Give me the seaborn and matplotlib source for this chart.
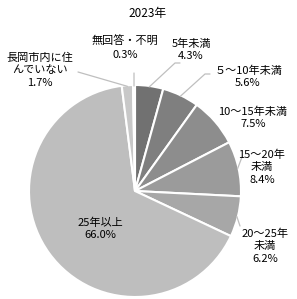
import matplotlib
matplotlib.use("Agg")
import matplotlib.pyplot as plt
import seaborn as sns
import numpy as np

categories = ["5年未満", "５～10年未満", "10～15年未満", "15～20年未満",
              "20～25年未満", "25年以上", "長岡市内に住んでいない", "無回答・不明"]
values = [4.3, 5.6, 7.5, 8.4, 6.2, 66.0, 1.7, 0.3]
label_names = ["5年未満", "５～10年未満", "10～15年未満", "15～20年\n未満",
               "20～25年\n未満", "25年以上", "長岡市内に住\nんでいない", "無回答・不明"]
title = "2023年"

sns.set_theme(style="white")
plt.rcParams['font.family'] = ['Noto Sans CJK JP', 'DejaVu Sans']

colors = sns.color_palette(["#717171", "#7f7f7f", "#8d8d8d", "#9b9b9b",
                            "#a7a7a7", "#bebebe", "#c8c8c8", "#d4d4d4"])

W, H = 297, 299
fig = plt.figure(figsize=(W / 100, H / 100), dpi=100)
cx, cy, R = 135, 191, 106
ax = fig.add_axes([(cx - R) / W, (H - cy - R) / H, 2 * R / W, 2 * R / H])
ax.pie(values, colors=colors, startangle=90, counterclock=False, radius=1,
       wedgeprops=dict(edgecolor="white", linewidth=1.5))
ax.set_xlim(-1, 1)
ax.set_ylim(-1, 1)
ax.set_aspect("auto")
ax.axis("off")

def to_data(px, py):
    return (px - cx) / R, (cy - py) / R

# label block centres (pixels)
label_pos = [(191, 50), (248, 77), (253, 118), (262, 167), (265, 246),
             (100, 229), (40, 70), (125, 48)]
fs = 8
for name, v, (px, py) in zip(label_names, values, label_pos):
    x, y = to_data(px, py)
    ax.text(x, y, f"{name}\n{v:.1f}%", ha="center", va="center", fontsize=fs,
            color="#000000", linespacing=1.3, clip_on=False)

# leader lines: start on the slice edge at mid angle, end near label (pixels)
cum = np.cumsum([0] + values[:-1])
mids = 90 - (cum + np.array(values) / 2) * 3.6
leader_ends = {0: [(175, 63), (180, 63)], 1: [(205, 74), (210, 74)],
               3: [(242, 157)], 4: [(240, 226)],
               6: [(78, 72)], 7: [(134, 73)]}
for i, pts in leader_ends.items():
    a = np.deg2rad(mids[i])
    xs = [np.cos(a) * 0.99]
    ys = [np.sin(a) * 0.99]
    for px, py in pts:
        x, y = to_data(px, py)
        xs.append(x)
        ys.append(y)
    ax.plot(xs, ys, color="#bfbfbf", lw=0.9, clip_on=False)

fig.text(148 / W, 1 - 13 / H, title, ha="center", va="center", fontsize=8.5,
         color="#000000")
fig.savefig("out.png", dpi=100, facecolor="white")
